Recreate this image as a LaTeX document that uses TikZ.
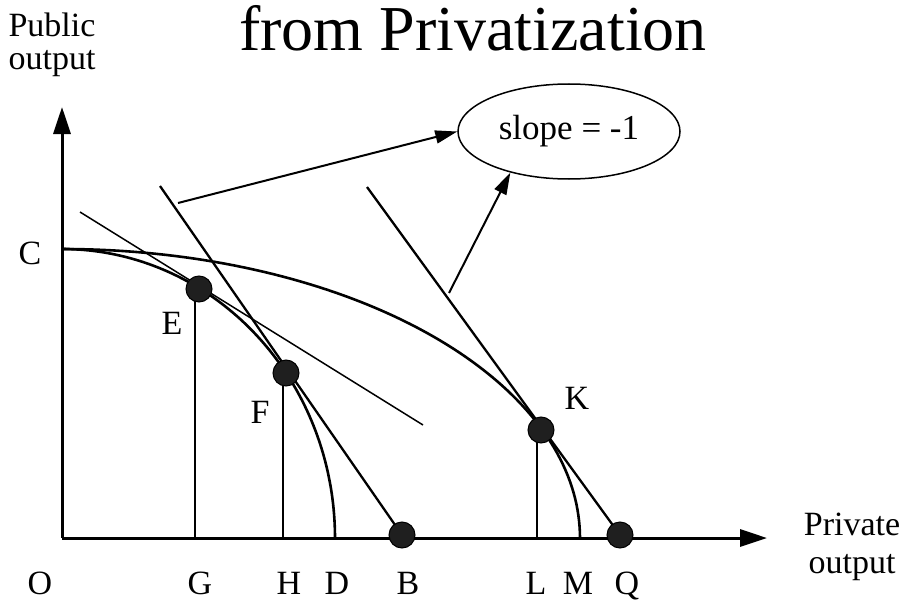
\documentclass[tikz,border=0pt]{standalone}
\usepackage{fontspec}
\setmainfont{Liberation Serif}
\usetikzlibrary{arrows.meta,shapes.geometric}
\begin{document}
\begin{tikzpicture}[x=1pt,y=-1pt,
  lbl/.style={font=\fontsize{34}{40}\selectfont, anchor=base, inner sep=0pt},
  ttl/.style={font=\fontsize{64}{70}\selectfont, anchor=base, inner sep=0pt},
  dot/.style={circle, fill=black!88, draw=black, line width=1pt, inner sep=0pt, minimum size=26pt},
  axisline/.style={line width=3pt, -{Triangle[length=27pt,width=17pt]}},
  curve/.style={line width=2.6pt},
  tang/.style={line width=2.3pt},
  thintang/.style={line width=1.5pt},
  drop/.style={line width=1.2pt},
  pointer/.style={line width=2pt, -{Triangle[length=22pt,width=13pt]}},
  bubble/.style={ellipse, draw, line width=1.5pt, minimum width=222pt, minimum height=95pt, inner sep=0pt, font=\fontsize{35}{40}\selectfont}]
\useasboundingbox (0,0) rectangle (908,610);
\fill[white] (0,0) rectangle (908,610);
% axes
\coordinate (orig) at (62,538);
\coordinate (C) at (62,249);
\coordinate (ytip) at (62,107);
\coordinate (xtip) at (767,538);
\draw[axisline] (orig) -- (ytip);
\draw[axisline] (orig) -- (xtip);
% production possibility curves
\draw[curve] plot[domain=90:0, samples=80] ({62+518*cos(\x)},{538-289*sin(\x)});
\draw[curve] plot[domain=90:0, samples=80] ({62+273*cos(\x)},{538-289*sin(\x)});
% point centres
\coordinate (Ec) at (199,289);
\coordinate (Fc) at (286,373);
\coordinate (Kc) at (541,430);
\coordinate (Bc) at (402,535);
\coordinate (Qc) at (620,535);
% tangent lines
\coordinate (t1a) at (80,212);
\coordinate (t1b) at (423,425);
\draw[thintang] (t1a) -- (t1b);
\coordinate (t2a) at (160,186);
\draw[tang] (t2a) -- (Bc);
\coordinate (t3a) at (367,187);
\draw[tang] (t3a) -- (Qc);
% drop lines
\draw[drop] (195,538) -- (195,300);
\draw[drop] (283,538) -- (283,385);
\draw[drop] (537,538) -- (537,440);
% dots
\node[dot] (E) at (Ec) {};
\node[dot] (F) at (Fc) {};
\node[dot] (K) at (Kc) {};
\node[dot] (B) at (Bc) {};
\node[dot] (Q) at (Qc) {};
% slope bubble and pointers
\node[bubble] (slope) at (569,131.5) {slope = -1};
\coordinate (p1) at (178,203);
\coordinate (p2) at (449,293);
\draw[pointer] (p1) -- (slope.west);
\draw[pointer] (p2) -- (slope.215);
% labels
\node[ttl] (title) at (473,51) {from Privatization};
\node[lbl] (pub1) at (52,37) {Public};
\node[lbl] (pub2) at (52,70) {output};
\node[lbl] (pri1) at (852,535) {Private};
\node[lbl] (pri2) at (852,573) {output};
\node[lbl] (lC) at (30,264) {C};
\node[lbl] (lE) at (172,334) {E};
\node[lbl] (lF) at (260,423) {F};
\node[lbl] (lK) at (577,409) {K};
\node[lbl] (lO) at (40,594) {O};
\node[lbl] (lG) at (200,594) {G};
\node[lbl] (lH) at (289,594) {H};
\node[lbl] (lD) at (337,594) {D};
\node[lbl] (lB) at (408,594) {B};
\node[lbl] (lL) at (536,594) {L};
\node[lbl] (lM) at (578,594) {M};
\node[lbl] (lQ) at (627,594) {Q};
\end{tikzpicture}
\end{document}
